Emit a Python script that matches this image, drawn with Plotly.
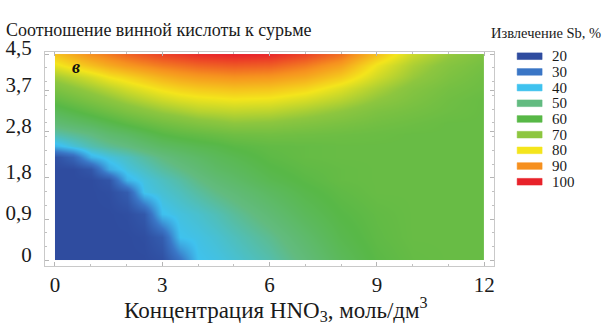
import plotly.graph_objects as go

# HNO3 concentration, mol/dm3 (columns) and tartaric acid : Sb ratio (rows)
hno3 = [0, 0.5, 1, 1.5, 2, 2.5, 3, 3.5, 4, 4.5, 5, 6, 7, 8, 9, 10, 11, 12]
ratio = [0, 0.5, 1, 1.5, 1.75, 2, 2.25, 2.5, 2.75, 3, 3.25, 3.5, 3.75, 4, 4.25, 4.5]

# Sb extraction, %  (one row per ratio value, one column per HNO3 value)
extraction = [
    [20, 20, 20, 20, 20, 20, 21, 29, 40, 41, 42.5, 46, 51, 56.5, 60.5, 62.5, 63, 63],
    [20, 20, 20, 20, 20, 20.5, 24, 40, 41, 42.5, 44.5, 48.5, 53.5, 58.5, 61.5, 63, 63, 63],
    [20, 20, 20, 20, 20.5, 23, 39.5, 41.5, 43, 45, 47.5, 52, 56.5, 60, 62, 63, 63, 63],
    [20, 20, 20, 20.5, 24, 40.5, 42.5, 44.5, 47, 49.5, 51.5, 55.5, 59, 61.5, 63, 63, 63, 63],
    [20, 20, 20, 22, 38, 41.5, 44, 46.5, 49.5, 52, 54, 58, 60.5, 62.5, 63, 63, 63, 63],
    [20, 20, 22.5, 37, 41.5, 44, 47, 49.5, 52, 54.5, 56, 59.5, 61.5, 62.5, 63, 63, 63, 63],
    [21, 26, 38, 41.5, 44, 47, 50, 52.5, 54.5, 56.5, 58, 61, 62.5, 63, 63, 63, 63, 63],
    [38, 42, 45.5, 48, 50, 52.5, 55, 56.5, 58, 59, 60.5, 62, 62.5, 63, 63, 63, 63, 63],
    [46, 48, 50, 53, 55, 57.5, 60, 61.5, 62.5, 63.5, 64.5, 65, 64.5, 64, 63.5, 63, 63, 63],
    [52, 54, 56, 58.5, 61, 63, 65, 66.5, 68, 69, 70, 69.5, 68, 66.5, 65, 64, 63, 63],
    [57, 59.5, 62, 64.5, 67, 69, 71, 72.5, 74, 74.5, 75, 74.5, 72.5, 70, 67, 65.5, 64, 63],
    [62, 64.5, 67, 69.5, 72, 74, 76, 77.5, 78.5, 79, 79.5, 79, 77, 74, 70, 67, 64.5, 63],
    [67, 69.5, 72, 74.5, 77, 79, 81, 82.5, 83.5, 84, 84.5, 84, 82, 78, 73, 68.5, 65.5, 64],
    [72, 74.5, 77, 80, 82, 84, 86, 87.5, 88.5, 89, 89.5, 89, 87, 83, 76.5, 71, 67, 64.5],
    [79, 82, 84.5, 87, 89, 90.5, 92, 93, 94, 94.5, 95, 94.5, 92, 88, 79.5, 73, 68.5, 65.5],
    [84, 87, 90, 92, 94, 95.5, 97, 98, 99, 99.5, 100, 99.5, 97, 93, 84.5, 76, 71, 67],
]

# Legend levels and their colours
levels = [20, 30, 40, 50, 60, 70, 80, 90, 100]
level_colors = ["#2f4c9f", "#3a76c6", "#3fc2ef", "#62bb80", "#58b847",
                "#8dc63f", "#f4e51c", "#f6901f", "#e8222a"]

x_ticks = [0, 3, 6, 9, 12]
y_ticks = [0, 0.9, 1.8, 2.8, 3.7, 4.5]
y_tick_text = ["0", "0,9", "1,8", "2,8", "3,7", "4,5"]

W, H = 606, 325
SERIF = "Liberation Serif"


def fx(p):
    return p / W


def fy(p):
    return 1 - p / H


zmin, zmax = levels[0], levels[-1]
colorscale = [[(v - zmin) / (zmax - zmin), c] for v, c in zip(levels, level_colors)]

fig = go.Figure()
fig.add_trace(go.Heatmap(
    x=hno3, y=ratio, z=extraction,
    zmin=zmin, zmax=zmax, colorscale=colorscale,
    zsmooth="best", showscale=False, hoverinfo="skip",
    xaxis="x", yaxis="y",
))
# empty trace so the framing axes get their own subplot
fig.add_trace(go.Scatter(x=[None], y=[None], mode="markers",
                         xaxis="x2", yaxis="y2", hoverinfo="skip"))

frame_axis = dict(
    showline=True, linecolor="#c9c9c9", linewidth=1, mirror="ticks",
    ticks="inside", ticklen=4, tickcolor="#b5b5b5", tickwidth=1,
    showgrid=False, zeroline=False, fixedrange=True,
    tickfont=dict(family=SERIF, size=21, color="#1a1a1a"),
)

fig.update_layout(
    width=W, height=H,
    margin=dict(l=0, r=0, t=0, b=0),
    paper_bgcolor="white", plot_bgcolor="rgba(0,0,0,0)",
    showlegend=False, hovermode=False,
    xaxis=dict(domain=[fx(55), fx(485)], range=[0, 12], anchor="y",
               visible=False, fixedrange=True),
    yaxis=dict(domain=[fy(257), fy(40)], range=[0, 4.5], anchor="x",
               visible=False, fixedrange=True),
    xaxis2=dict(domain=[fx(45), fx(495)], range=[-0.279, 12.279], anchor="y2",
                tickvals=x_ticks, ticktext=[str(v) for v in x_ticks],
                minor=dict(dtick=1, tick0=0, ticks="inside", ticklen=2,
                           tickcolor="#c0c0c0"),
                **frame_axis),
    yaxis2=dict(domain=[fy(263), fy(38)], range=[-0.124, 4.541], anchor="x2",
                tickvals=y_ticks, ticktext=y_tick_text,
                ticklabelstandoff=8, ticklabelshift=-6,
                minor=dict(dtick=0.3, tick0=0, ticks="inside", ticklen=2,
                           tickcolor="#c0c0c0"),
                **frame_axis),
)

paper = dict(xref="paper", yref="paper", showarrow=False)
annotations = [
    dict(text="Соотношение винной кислоты к сурьме", x=fx(4), y=fy(15),
         xanchor="left", yanchor="middle",
         font=dict(family=SERIF, size=18, color="#1a1a1a"), **paper),
    dict(text="Концентрация HNO<sub>3</sub>, моль/дм<sup>3</sup>", x=fx(276), y=fy(309),
         xanchor="center", yanchor="middle",
         font=dict(family=SERIF, size=23, color="#1a1a1a"), **paper),
    dict(text="<b><i>в</i></b>", x=fx(76), y=fy(54),
         xanchor="center", yanchor="middle",
         font=dict(family=SERIF, size=18, color="#111111"), **paper),
    dict(text="Извлечение Sb, %", x=fx(604), y=fy(18),
         xanchor="right", yanchor="middle",
         font=dict(family=SERIF, size=14.5, color="#1a1a1a"), **paper),
]

shapes = []
row0, step = 42.3, 16.5
for i, (v, c) in enumerate(zip(levels, level_colors)):
    yc = row0 + step * i
    shapes.append(dict(type="rect", xref="paper", yref="paper",
                       x0=fx(518), x1=fx(543), y0=fy(yc + 3.5), y1=fy(yc - 3.5),
                       fillcolor=c, line=dict(color=c, width=0.5)))
    annotations.append(dict(text=str(v), x=fx(551), y=fy(yc),
                            xanchor="left", yanchor="middle",
                            font=dict(family=SERIF, size=15, color="#1a1a1a"),
                            **paper))

fig.update_layout(annotations=annotations, shapes=shapes)

fig.write_html("out.html")
